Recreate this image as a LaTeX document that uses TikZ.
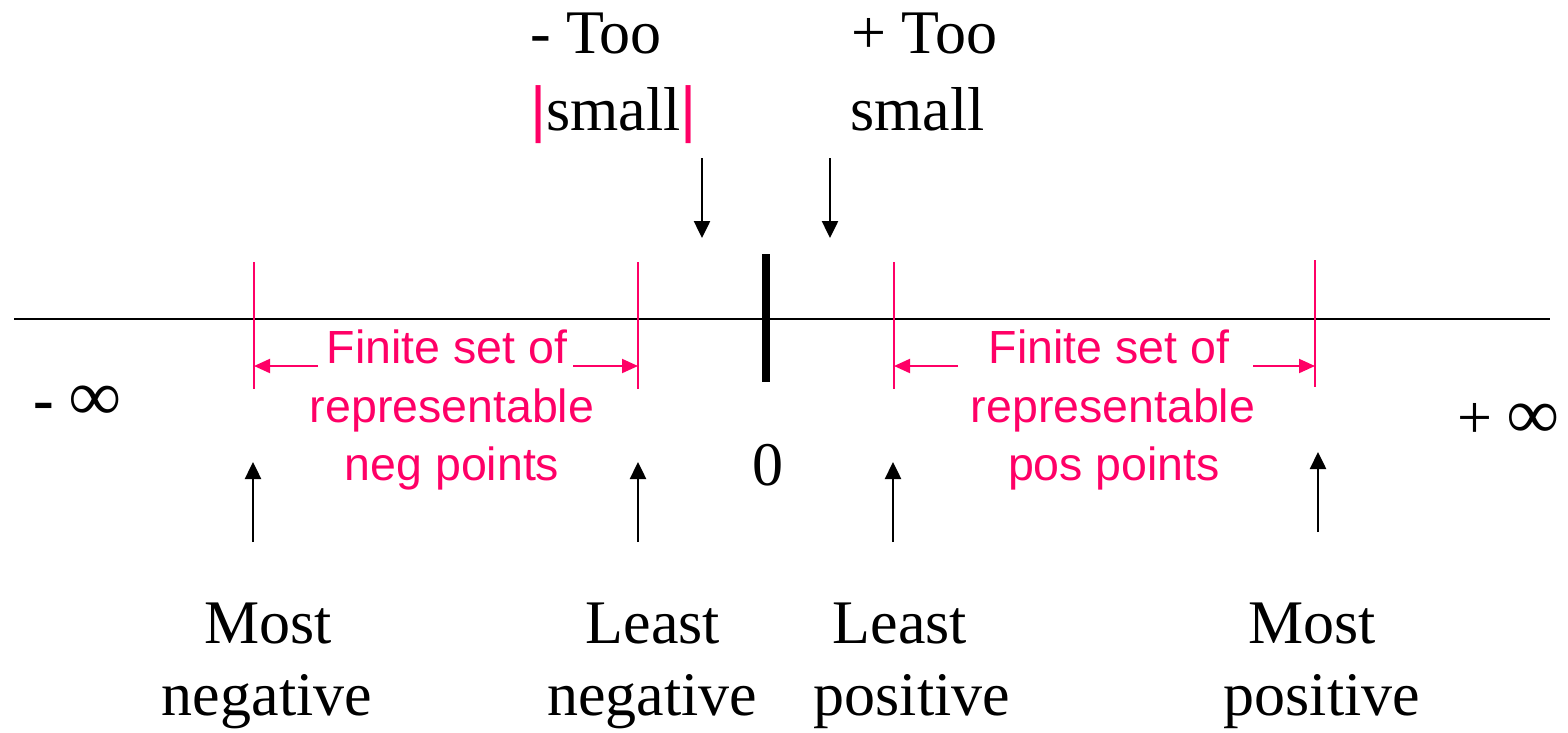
\documentclass[tikz,border=0pt]{standalone}
\usepackage{fontspec}
\setmainfont{Liberation Serif}
\newfontfamily\arialf{Liberation Sans}
\usetikzlibrary{arrows.meta}
\definecolor{pinkc}{RGB}{255,0,102}
\begin{document}
\begin{tikzpicture}[x=1pt,y=-1pt,
  serif/.style={font=\fontsize{62}{77}\selectfont, inner sep=0pt, anchor=base},
  serifw/.style={serif, anchor=base west},
  pinktxt/.style={font=\arialf\fontsize{46.5}{58}\selectfont, text=pinkc, inner sep=0pt, anchor=base},
  blackarrow/.style={line width=2.5pt, -{Triangle[length=17pt,width=16pt]}},
  pinkarrow/.style={draw=pinkc, line width=2pt, -{Triangle[length=16pt,width=14pt]}},
  pinktick/.style={draw=pinkc, line width=2pt},
]
\useasboundingbox (0,0) rectangle (1568,732);
% axis
\coordinate (axL) at (14,319);
\coordinate (axR) at (1550,319);
\draw[line width=2.5pt] (axL) -- (axR);
% zero tick
\coordinate (z1) at (766,254);
\coordinate (z2) at (766,382);
\draw[line width=8pt] (z1) -- (z2);
% pink ticks
\coordinate (nt1a) at (254,262); \coordinate (nt1b) at (254,389);
\coordinate (nt2a) at (638,262); \coordinate (nt2b) at (638,389);
\coordinate (pt1a) at (894,262); \coordinate (pt1b) at (894,389);
\coordinate (pt2a) at (1315,260); \coordinate (pt2b) at (1315,387);
\draw[pinktick] (nt1a) -- (nt1b);
\draw[pinktick] (nt2a) -- (nt2b);
\draw[pinktick] (pt1a) -- (pt1b);
\draw[pinktick] (pt2a) -- (pt2b);
% pink arrows
\coordinate (na1s) at (318,366); \coordinate (na1e) at (254,366);
\coordinate (na2s) at (573,366); \coordinate (na2e) at (638,366);
\coordinate (pa1s) at (958,366); \coordinate (pa1e) at (894,366);
\coordinate (pa2s) at (1253,366); \coordinate (pa2e) at (1315,366);
\draw[pinkarrow] (na1s) -- (na1e);
\draw[pinkarrow] (na2s) -- (na2e);
\draw[pinkarrow] (pa1s) -- (pa1e);
\draw[pinkarrow] (pa2s) -- (pa2e);
% pink texts
\node[pinktxt] (nf1) at (447,363) {Finite set of};
\node[pinktxt] (nf2) at (452,422) {representable};
\node[pinktxt] (nf3) at (452,480) {neg points};
\node[pinktxt] (pf1) at (1109,363) {Finite set of};
\node[pinktxt] (pf2) at (1113,422) {representable};
\node[pinktxt] (pf3) at (1114,480) {pos points};
% top texts
\node[serifw] (mt1) at (530,53) {- Too};
\node[serifw] (mt2) at (530,130) {{\arialf\color{pinkc}|}small{\arialf\color{pinkc}|}};
\node[serifw] (pt1) at (851,53) {+ Too};
\node[serifw] (pt2) at (850,130) {small};
% down arrows
\coordinate (d1s) at (702,158); \coordinate (d1e) at (702,238);
\coordinate (d2s) at (830,158); \coordinate (d2e) at (830,238);
\draw[blackarrow] (d1s) -- (d1e);
\draw[blackarrow] (d2s) -- (d2e);
% infinities and zero
\node[serifw, font=\bfseries\fontsize{62}{77}\selectfont] (minf) at (33,420) {- {\fontsize{72}{77}\selectfont\char"221E}};
\node[serifw] (pinf) at (1457,438) {+ {\bfseries\fontsize{72}{77}\selectfont\char"221E}};
\node[serif] (zero) at (768,485) {0};
% up arrows
\coordinate (u1s) at (253,542); \coordinate (u1e) at (253,462);
\coordinate (u2s) at (638,542); \coordinate (u2e) at (638,462);
\coordinate (u3s) at (893,542); \coordinate (u3e) at (893,462);
\coordinate (u4s) at (1318,532); \coordinate (u4e) at (1318,452);
\draw[blackarrow] (u1s) -- (u1e);
\draw[blackarrow] (u2s) -- (u2e);
\draw[blackarrow] (u3s) -- (u3e);
\draw[blackarrow] (u4s) -- (u4e);
% bottom labels
\node[serif] (mn1) at (268,643) {Most};
\node[serif] (mn2) at (267,715) {negative};
\node[serif] (ln1) at (653,643) {Least};
\node[serif] (ln2) at (652,715) {negative};
\node[serif] (lp1) at (900,643) {Least};
\node[serif] (lp2) at (912,715) {positive};
\node[serif] (mp1) at (1312,643) {Most};
\node[serif] (mp2) at (1322,715) {positive};
\end{tikzpicture}
\end{document}
